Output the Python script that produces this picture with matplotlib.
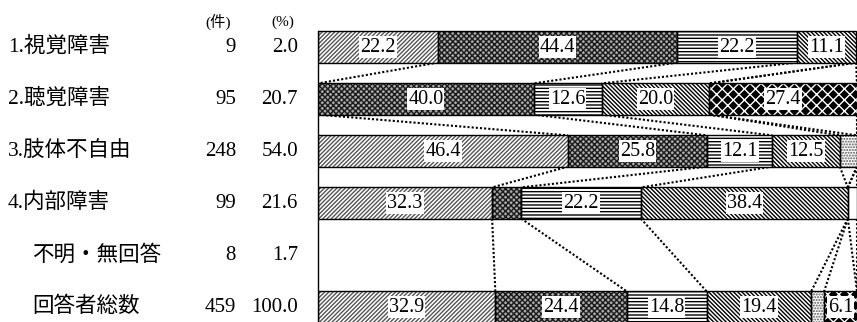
import matplotlib
matplotlib.use("Agg")
import matplotlib.pyplot as plt
import matplotlib.transforms as mtransforms

plt.rcParams['font.family'] = ['Liberation Serif', 'Noto Sans CJK JP', 'DejaVu Sans']
plt.rcParams['hatch.linewidth'] = 1.0

# rows of the table
row_labels = ['1.視覚障害', '2.聴覚障害', '3.肢体不自由', '4.内部障害', '不明・無回答', '回答者総数']
row_counts = ['9', '95', '248', '99', '8', '459']
row_pcts = ['2.0', '20.7', '54.0', '21.6', '1.7', '100.0']

# share of each answer (%) per row, one list per answer
s0 = [22.2, 0.0, 46.4, 32.3, 0.0, 32.9]
s1 = [44.4, 40.0, 25.8, 5.4, 0.0, 24.4]
s2 = [22.2, 12.6, 12.1, 22.2, 0.0, 14.8]
s3 = [11.1, 20.0, 12.5, 38.4, 0.0, 19.4]
s4 = [0.0, 0.0, 3.2, 0.0, 0.0, 2.4]
s5 = [0.0, 27.4, 0.0, 0.0, 0.0, 6.1]
s6 = [0.0, 0.0, 0.0, 1.7, 0.0, 0.0]
series = [s0, s1, s2, s3, s4, s5, s6]

# fill, hatch, hatch colour for each answer
styles = [
    ('white', '////////', '#555555'),
    ('#a8a8a8', 'xxxxxx', '#1a1a1a'),
    ('white', '-----', 'black'),
    ('white', '\\\\\\\\\\\\\\\\', 'black'),
    ('white', '......', '#555555'),
    ('black', 'xxx', 'white'),
    ('white', '', 'white'),
]

W, H = 857, 322
fig = plt.figure(figsize=(W / 100, H / 100), dpi=100)
x0 = 318
ax = fig.add_axes([x0 / W, 0, (W - x0) / W, 1])
ax.set_xlim(0, 100)
top_px, step_px = 47, 52
ax.set_ylim((H - top_px) / step_px, -top_px / step_px)
ax.axis('off')
bar_h = 0.6

n = len(row_labels)
cums = []
for i in range(n):
    left = 0.0
    c = []
    for k, s in enumerate(series):
        v = s[i]
        if v > 0:
            fc, hatch, hc = styles[k]
            ax.barh(i, v, left=left, height=bar_h, color=fc, hatch=hatch,
                    edgecolor=hc, linewidth=0, zorder=2)
            ax.barh(i, v, left=left, height=bar_h, fill=False,
                    edgecolor='black', linewidth=1.0, zorder=3)
            if v >= 6:
                ax.text(left + v / 2, i, f'{v:.1f}', ha='center', va='center',
                        fontsize=14.5, zorder=4,
                        bbox=dict(boxstyle='square,pad=0.05', fc='white', ec='none'))
        left += v
        c.append(left)
    cums.append(c if left > 0 else None)

# dotted series lines between neighbouring non-empty bars
filled = [i for i in range(n) if cums[i] is not None]
for a, b in zip(filled[:-1], filled[1:]):
    for ca, cb in zip(cums[a], cums[b]):
        ax.plot([ca, cb], [a + bar_h / 2, b - bar_h / 2], color='black',
                linestyle=(0, (1.0, 1.0)), linewidth=1.5, zorder=1)

ax.plot([0, 0], [-bar_h / 2, (H - top_px) / step_px], color='black',
        linewidth=1.0, zorder=5, clip_on=False)

# table text on the left
tr = mtransforms.blended_transform_factory(fig.transFigure, ax.transData)
for i in range(n):
    lx = 8 if row_labels[i][0].isdigit() else 32
    ax.text(lx / W, i, row_labels[i], transform=tr, ha='left', va='center', fontsize=15.5)
    ax.text(236 / W, i, row_counts[i], transform=tr, ha='right', va='center', fontsize=15)
    ax.text(298 / W, i, row_pcts[i], transform=tr, ha='right', va='center', fontsize=15)

fig.text(218 / W, 1 - 22 / H, '(件)', ha='center', va='center', fontsize=11)
fig.text(283 / W, 1 - 22 / H, '(%)', ha='center', va='center', fontsize=11)

fig.savefig('out.png', dpi=100)
